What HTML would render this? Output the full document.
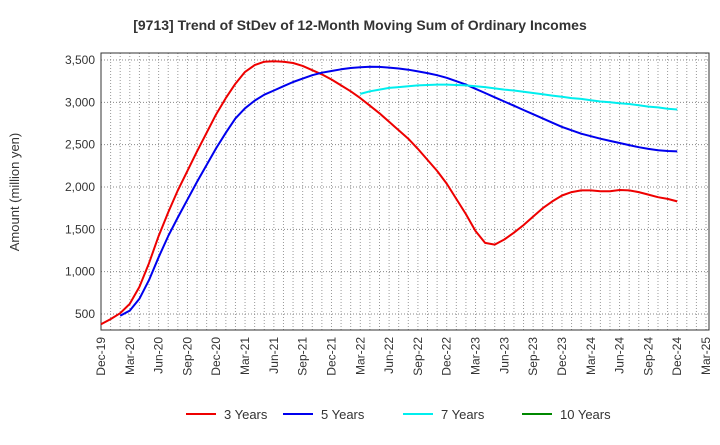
<!DOCTYPE html>
<html><head><meta charset="utf-8"><style>
body{margin:0;background:#fff;font-family:"Liberation Sans",sans-serif}
</style></head><body>
<svg id="c" width="720" height="440" xmlns="http://www.w3.org/2000/svg" font-family="Liberation Sans, sans-serif">
<text x="360" y="30" text-anchor="middle" font-size="14" font-weight="bold" fill="#333">[9713]  Trend of StDev of 12-Month Moving Sum of Ordinary Incomes</text>
<text transform="translate(19,192) rotate(-90)" text-anchor="middle" font-size="13" fill="#333">Amount (million yen)</text>
<g id="grid"></g><g id="axes"></g><g id="series"></g><g id="legend"></g>
</svg>
<script>
const xLabels=["Dec-19","Mar-20","Jun-20","Sep-20","Dec-20","Mar-21","Jun-21","Sep-21","Dec-21","Mar-22","Jun-22","Sep-22","Dec-22","Mar-23","Jun-23","Sep-23","Dec-23","Mar-24","Jun-24","Sep-24","Dec-24","Mar-25"];
const yTicks=[500,1000,1500,2000,2500,3000,3500];
const y3=[380,440,510,620,820,1100,1420,1700,1960,2190,2420,2640,2860,3050,3220,3360,3440,3480,3485,3480,3465,3430,3380,3330,3270,3200,3130,3050,2960,2870,2770,2670,2570,2450,2320,2190,2040,1860,1680,1480,1340,1320,1380,1460,1550,1650,1750,1830,1900,1940,1960,1960,1950,1950,1965,1960,1940,1910,1880,1860,1830];
const y5=[null,null,480,540,680,900,1170,1420,1640,1850,2060,2260,2460,2640,2810,2930,3020,3090,3140,3190,3240,3280,3320,3350,3370,3390,3405,3415,3420,3418,3410,3400,3385,3365,3345,3320,3290,3250,3210,3160,3110,3060,3010,2960,2910,2860,2810,2760,2710,2670,2630,2600,2570,2545,2520,2495,2470,2450,2435,2425,2420];
const y7=[...Array(27).fill(null),3100,3130,3150,3170,3180,3190,3200,3205,3210,3210,3205,3200,3190,3180,3165,3150,3140,3125,3110,3095,3080,3065,3050,3040,3025,3010,3000,2990,2980,2965,2950,2940,2925,2915];
const y10=[];
const L=101,R=709,T=53,B=330,M0=101,MW=(706-101)/63;
const X=i=>M0+i*MW, Y=v=>314-(v-500)*(254/3000);
const ns="http://www.w3.org/2000/svg";
function mk(p,t,a){const e=document.createElementNS(ns,t);for(const k in a)e.setAttribute(k,a[k]);p.appendChild(e);return e;}
const g=document.getElementById('grid'),ax=document.getElementById('axes'),s=document.getElementById('series'),lg=document.getElementById('legend');
for(let m=0;m<=63;m++){const l=mk(g,'line',{x1:X(m),x2:X(m),y1:T,y2:B,stroke:'#999','stroke-dasharray':'1,2','stroke-width':1});

}
yTicks.forEach(v=>{const l=mk(g,'line',{x1:L,x2:R,y1:Y(v),y2:Y(v),stroke:'#888','stroke-dasharray':'1,2'});


const t=mk(ax,'text',{x:L-6,y:Y(v)+4,'text-anchor':'end','font-size':12,fill:'#333'});t.textContent=v.toLocaleString('en-US');

});
const fr=mk(ax,'rect',{x:L,y:T,width:R-L,height:B-T,fill:'none',stroke:'#333'});


xLabels.forEach((lb,i)=>{const x=X(i*3);const t=mk(ax,'text',{transform:`translate(${x+4},${B+7}) rotate(-90)`,'text-anchor':'end','font-size':12,fill:'#333'});t.textContent=lb;

});
function line(d,c,n){let p='';d.forEach((v,i)=>{if(v==null)return;p+=(p?'L':'M')+X(i).toFixed(1)+','+Y(v).toFixed(1);});if(!p)return;
const e=mk(s,'path',{d:p,fill:'none',stroke:c,'stroke-width':2,'stroke-linejoin':'round'});

}
line(y3,'#ee0000','line-3-years');line(y5,'#0000ee','line-5-years');line(y7,'#00eeee','line-7-years');line(y10,'#008800','line-10-years');
[["3 Years","#ee0000",186],["5 Years","#0000ee",283],["7 Years","#00eeee",403],["10 Years","#008800",522]].forEach(([n,c,x])=>{
const gg=mk(lg,'g',{});


mk(gg,'line',{x1:x,x2:x+30,y1:414,y2:414,stroke:c,'stroke-width':2});
const t=mk(gg,'text',{x:x+38,y:419,'font-size':13,fill:'#333'});t.textContent=n;});
</script>
</body></html>
